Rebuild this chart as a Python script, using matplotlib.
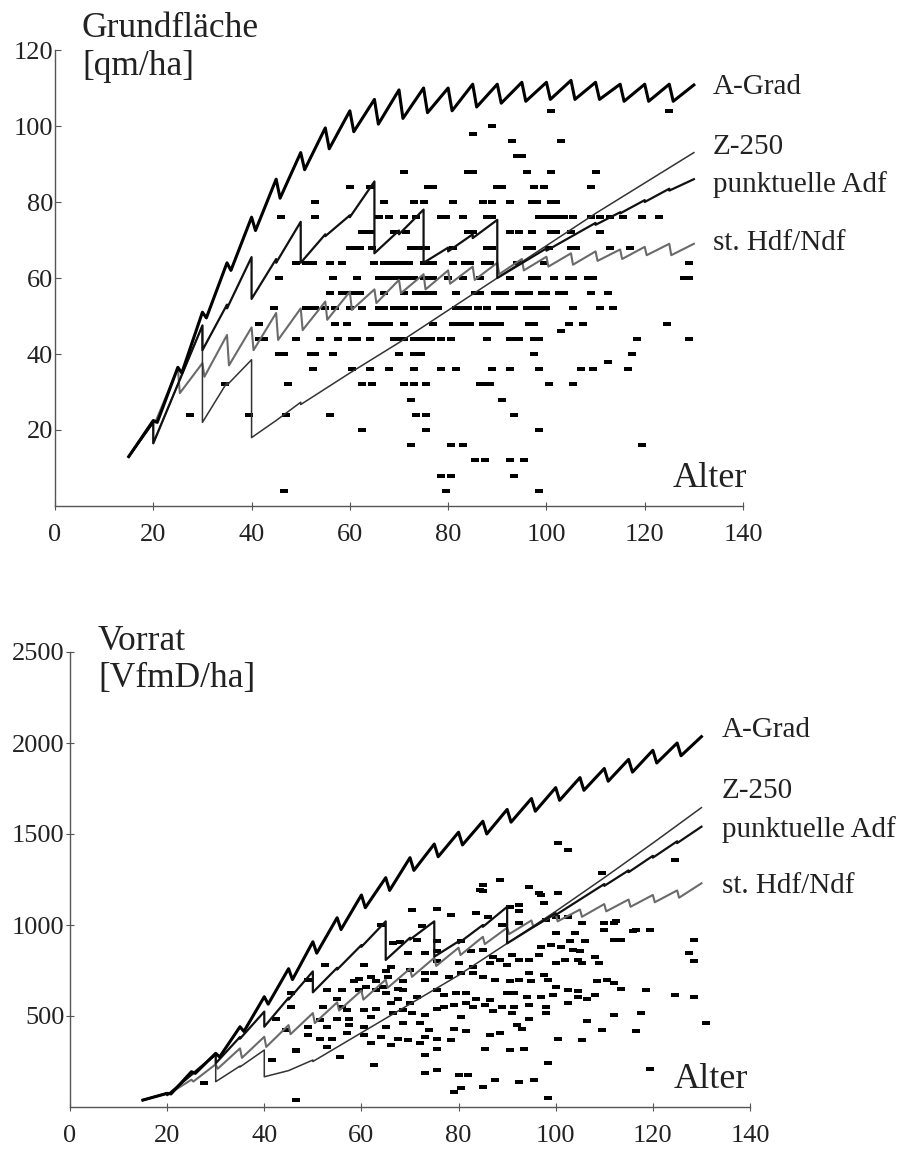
import matplotlib
matplotlib.use("Agg")
import matplotlib.pyplot as plt
from matplotlib.path import Path

plt.rcParams["font.family"] = ["Liberation Serif", "DejaVu Serif"]

# ---------------- Grundflaeche [qm/ha] ----------------
# Kurven: Durchforstungsalter, Wert vor und nach dem Eingriff
gf_agrad_t = [20, 25, 30, 35, 40, 45, 50, 55, 60, 65, 70, 75, 80, 85, 90, 95, 100, 105, 110, 115, 120, 125]
gf_agrad_vor = [22.5, 36.5, 51, 64, 76, 86, 93, 99.5, 104, 107, 109.5, 110, 110, 111, 111, 111.5, 111.5, 112, 111.5, 111, 111, 111]
gf_agrad_nach = [22, 35, 49.5, 62, 72.5, 81, 88.5, 94, 98.5, 100.5, 102, 103.5, 104, 105, 106, 106.5, 107, 107, 107, 106.5, 106.5, 106.5]
gf_agrad_ende = 110.8

gf_z250_t = [20, 30, 35, 40, 45, 50, 60, 70, 80, 90, 100, 110, 120]
gf_z250_vor = [22, 47.5, 32.5, 38.5, 22.5, 27.3, 35, 43, 51.5, 60, 68.5, 77, 85]
gf_z250_nach = [16.5, 22, 31.8, 18, 22.5, 26.7, 35, 43, 51.5, 60, 68.5, 77, 85]
gf_z250_ende = 93

gf_padf_t = [20, 30, 35, 40, 45, 50, 55, 60, 65, 70, 75, 80, 85, 90, 100, 110, 115, 120, 125]
gf_padf_vor = [22, 47.5, 53, 65.5, 65, 74.8, 71.5, 76.5, 85.4, 72.5, 78, 68, 71.5, 75.3, 67.8, 74.5, 77.3, 80.5, 83.5]
gf_padf_nach = [16.5, 41, 52, 54.5, 64, 64, 71, 76, 66.5, 71.5, 64, 67, 70.5, 60, 67.2, 74, 77, 80, 83]
gf_padf_ende = 86

gf_hdf_t = [20, 25, 30, 35, 40, 45, 50, 55, 60, 65, 70, 75, 80, 85, 90, 95, 100, 105, 110, 115, 120, 125]
gf_hdf_vor = [22.5, 36.3, 37.6, 45, 47, 50.8, 52, 53.8, 56.4, 57, 59.5, 61, 62, 63, 64, 65, 65.6, 66.5, 67, 67.5, 68.2, 69]
gf_hdf_nach = [22, 29.7, 34, 37, 41, 43.7, 46.3, 49, 51.6, 53.4, 56, 57, 58.5, 59.5, 61, 62, 63, 63.5, 64.5, 65, 66, 66]
gf_hdf_ende = 69

# Bestandesaufnahmen: Grundflaechenstufe und zugehoerige Alter
gf_stufen = [104, 100, 98, 96, 92, 88, 84, 80, 76, 72, 68, 64, 60, 56, 52, 48, 46, 44, 40, 38, 36, 32, 28, 24, 20, 16, 12, 8, 4]
gf_alter = [
    [101, 125],
    [89],
    [85],
    [93, 103],
    [94, 95],
    [71, 84, 85, 96, 101, 110],
    [60, 64, 76, 77, 90, 91, 97.5, 99.5, 109],
    [53, 67, 73, 75, 81, 87, 89, 92.5, 97, 98, 101, 102],
    [46, 53, 66, 68, 71, 73.5, 78.5, 79.5, 83, 88, 89, 98.5, 99.5, 100.5, 101.5, 102.5, 103.5,
     105.5, 109, 111, 113, 115.5, 119.5, 123],
    [62.5, 64, 69, 71.5, 84, 85, 92.5, 94.5, 97, 101, 102, 105, 111],
    [60, 61, 62, 64.5, 72.5, 73.5, 74.5, 75.5, 81, 88, 89, 96, 97, 100.5, 105, 106, 113, 117],
    [49, 51, 52.5, 56, 58.5, 65, 67, 68, 69.5, 71, 72, 75, 76, 77, 81, 83.5, 84.5, 87.5, 88.5,
     94, 99.5, 129],
    [45.5, 56.5, 61.5, 66, 67, 68, 69.5, 70.5, 71.5, 73, 75, 76, 77, 80, 83, 86.5, 92.5, 97, 98,
     101.5, 104.5, 105.5, 108.5, 109.5, 128, 129],
    [56, 58.5, 59.5, 60.5, 62, 67, 71, 73.5, 75, 76, 77, 81.5, 85.5, 86.5, 89.5, 90.5, 91.5, 94.5,
     95.5, 96.5, 99, 100, 102.5, 103.5, 109, 112.5],
    [44.5, 51, 52, 53, 55, 57, 60, 62.5, 66, 67, 69, 70, 71, 73, 75, 76, 77, 78, 81.5, 82.5, 84,
     86, 88, 90.5, 91.5, 92.5, 93.5, 96, 97, 98, 99, 100, 105.5, 111, 113.5],
    [41.5, 57, 59.5, 64.5, 65.5, 67, 68, 71, 77, 81, 82, 83, 84.5, 87, 88, 89.5, 90.5, 96.5, 97.5,
     104.5, 107.5, 124.5],
    [103],
    [41.5, 42.5, 49, 54, 57.5, 60.5, 61.5, 64, 69, 70, 71, 73, 74.5, 75.5, 76.5, 78.5, 80.5, 88,
     92.5, 93.5, 94.5, 97.5, 98.5, 118.5, 129],
    [45.5, 46.5, 52, 53, 56.5, 70, 73, 74.5, 97.5, 117.5],
    [112.5],
    [52.5, 60.5, 64, 68, 73, 78.5, 81.5, 89, 92.5, 98.5, 107, 109.5, 116.5],
    [34.5, 47.5, 62.5, 64.5, 71, 73, 75.5, 86.5, 87.5, 88.5, 100.5, 105.5],
    [72.5, 91],
    [27.5, 39.5, 47, 56, 73.5, 75.5, 93.5],
    [62.5, 75.5, 98.5],
    [72.5, 80.5, 83, 119.5],
    [85.5, 87.5, 92.5, 95.5],
    [78.5, 80.5, 93.5],
    [46.5, 79.5, 98.5],
]

# ---------------- Vorrat [VfmD/ha] ----------------
vr_agrad_t = [20, 25, 30, 35, 40, 45, 50, 55, 60, 65, 70, 75, 80, 85, 90, 95, 100, 105, 110, 115, 120, 125]
vr_agrad_vor = [75, 194, 295, 441, 606, 760, 908, 1040, 1165, 1260, 1370, 1445, 1510, 1570, 1635, 1695, 1755, 1810, 1860, 1910, 1960, 2000]
vr_agrad_nach = [72, 185, 275, 415, 565, 700, 845, 975, 1095, 1190, 1300, 1375, 1440, 1500, 1565, 1625, 1685, 1740, 1790, 1840, 1890, 1930]
vr_agrad_ende = 2035

vr_z250_t = [20, 30, 35, 40, 45, 50, 60, 70, 80, 90, 100, 110, 120]
vr_z250_vor = [75, 285, 225, 313, 200, 258, 408, 566, 724, 899, 1075, 1260, 1450]
vr_z250_nach = [65, 139, 220, 166, 200, 250, 408, 566, 724, 899, 1075, 1260, 1450]
vr_z250_ende = 1645

vr_padf_t = [20, 30, 35, 40, 45, 50, 55, 60, 65, 70, 75, 80, 85, 90, 100, 110, 115, 120, 125]
vr_padf_vor = [75, 290, 385, 524, 600, 745, 765, 890, 1020, 930, 1020, 910, 1000, 1100, 1065, 1225, 1300, 1380, 1460]
vr_padf_nach = [65, 240, 375, 441, 590, 630, 755, 880, 808, 920, 826, 900, 990, 899, 1055, 1215, 1290, 1370, 1450]
vr_padf_ende = 1540

vr_hdf_t = [20, 25, 30, 35, 40, 45, 50, 55, 60, 65, 70, 75, 80, 85, 90, 95, 100, 105, 110, 115, 120, 125]
vr_hdf_vor = [75, 150, 235, 322, 386, 450, 516, 575, 640, 700, 760, 820, 875, 935, 985, 1025, 1060, 1085, 1115, 1140, 1165, 1190]
vr_hdf_nach = [73, 140, 210, 270, 330, 400, 461, 530, 590, 655, 715, 775, 835, 895, 950, 990, 1020, 1045, 1075, 1100, 1125, 1150]
vr_hdf_ende = 1229

vr_punkte = [
    (70.5, 1080), (75.5, 1090), (64, 1000), (72.5, 995), (66.5, 900), (68, 905), (71.5, 920),
    (75.5, 910), (69.5, 845), (73, 845), (75.5, 855), (52.5, 780), (60.5, 780), (66, 770),
    (70, 755), (75.5, 800), (65, 745), (62, 715), (65.5, 715), (59.5, 705), (73, 735), (75, 735),
    (49, 700), (58.5, 690), (63, 690), (68.5, 690), (73, 700), (61, 660), (64.5, 660), (67.5, 650),
    (45.5, 625), (53, 645), (56, 645), (59.5, 645), (63, 645), (68.5, 645), (75.5, 645), (65, 625),
    (55, 595), (67.5, 595), (71.5, 605), (77, 615), (52, 550), (56, 550), (66, 570), (70, 570),
    (45.5, 550), (57, 535), (60.5, 535), (63, 540), (68.5, 535), (75.5, 540), (42.5, 485),
    (51.5, 480), (55, 485), (57.5, 485), (62, 495), (66.5, 515), (70.5, 515), (73, 505), (49, 440),
    (53, 440), (57.5, 450), (60.5, 440), (65, 440), (68.5, 460), (72, 460), (74, 425), (44.5, 425),
    (49, 395), (51.5, 375), (54, 375), (57, 405), (60.5, 395), (64, 385), (67.5, 375), (69.5, 370),
    (73, 385), (75.5, 375), (46.5, 315), (53, 330), (55.5, 275), (62, 350), (66, 340), (72, 350),
    (75.5, 320), (41.5, 260), (46.5, 305), (73, 285), (62.5, 230), (73, 185), (75.5, 205),
    (46.5, 40), (27.5, 130),
    (100.5, 1450), (102.5, 1410), (85, 1220), (88.5, 1245), (85, 1185), (94.5, 1210), (97, 1165),
    (100.5, 1175), (109.5, 1285), (124.5, 1355), (78.5, 1055), (83.5, 1065), (86, 1045),
    (90.5, 1100), (92.5, 1110), (92.5, 1075), (97.5, 1120), (92.5, 1010), (89, 1000), (98, 1025),
    (100, 1045), (102.5, 1045), (105.5, 1010), (110, 1010), (112, 1010), (110, 975), (112, 920),
    (113.5, 920), (116, 965), (119.5, 970), (128.5, 920), (100, 955), (104, 955), (106, 910),
    (103, 910), (103.5, 865), (105, 855), (101, 880), (99, 890), (97, 880), (96.5, 835), (94.5, 810),
    (91, 835), (88.5, 810), (87, 825), (85, 865), (82.5, 855), (80.5, 910), (80, 790), (83, 770),
    (86.5, 790), (90, 780), (92.5, 810), (94.5, 735), (97.5, 725), (100, 790), (102, 810),
    (104.5, 810), (105.5, 790), (108, 825), (109, 790), (127.5, 845), (128.5, 800), (78, 715),
    (80.5, 735), (83, 735), (85, 715), (87.5, 700), (90.5, 690), (92.5, 700), (95, 690), (98.5, 700),
    (100, 660), (102.5, 645), (104.5, 635), (108.5, 690), (110.5, 700), (112, 680), (113.5, 650),
    (118.5, 645), (124.5, 615), (128.5, 605), (79.5, 625), (81.5, 625), (83.5, 595), (86.5, 590),
    (90, 625), (91.5, 625), (94, 605), (97, 605), (99.5, 615), (102.5, 570), (104.5, 605),
    (106.5, 595), (108, 615), (77, 550), (79, 560), (81.5, 570), (83, 550), (85.5, 560), (89, 550),
    (91.5, 550), (94.5, 560), (98, 550), (98, 515), (80.5, 495), (87, 525), (91, 515), (94.5, 485),
    (106.5, 470), (109.5, 425), (112, 505), (117.5, 515), (116.5, 415), (131, 460), (79, 430),
    (81.5, 415), (86.5, 395), (88.5, 405), (92, 450), (93, 430), (100.5, 375), (105.5, 370),
    (78.5, 370), (85.5, 320), (90.5, 315), (93.5, 320), (98.5, 240), (80, 175), (82, 175),
    (87.5, 150), (92.5, 140), (95.5, 150), (85, 110), (80.5, 105), (79, 85), (98.5, 50),
    (119.5, 210), (116.5, 970), (112.5, 1020), (84.5, 1190), (96.5, 1175),
]

verfahren = ["A-Grad", "Z-250", "punktuelle Adf", "st. Hdf/Ndf"]


def saegezahn(t, vor, nach, ende, start, versatz):
    xs, ys = [15], [start]
    for a, v, n in zip(t, vor, nach):
        xs += [a, a + versatz]
        ys += [v, n]
    xs.append(130)
    ys.append(ende)
    return xs, ys


strich = Path([(-1, -0.42), (1, -0.42), (1, 0.42), (-1, 0.42), (-1, -0.42)],
              [Path.MOVETO, Path.LINETO, Path.LINETO, Path.LINETO, Path.CLOSEPOLY])


def achse(ax, yticks):
    ax.set_xlim(0, 140)
    ax.set_xticks(range(0, 141, 20))
    ax.set_yticks(yticks)
    for s in ["top", "right"]:
        ax.spines[s].set_visible(False)
    for s in ["left", "bottom"]:
        ax.spines[s].set_color("#555555")
        ax.spines[s].set_linewidth(1.0)
    ax.tick_params(length=6, width=0.8, colors="#555555", labelcolor="#222222", labelsize=19)
    ax.tick_params(axis="x", direction="inout", pad=10)
    ax.patch.set_alpha(0)


fig = plt.figure(figsize=(9.04, 11.52), dpi=100)

# oberes Diagramm
ax1 = fig.add_axes([55 / 904, 1 - 506 / 1152, 688 / 904, 456 / 1152])
ax1.set_ylim(0, 120)
achse(ax1, range(20, 121, 20))
ax1.tick_params(axis="y", direction="in", length=4, pad=1.5)

gx, gy = [], []
for w, alter in zip(gf_stufen, gf_alter):
    gx += alter
    gy += [w] * len(alter)
ax1.plot(gx, gy, ls="none", marker=strich, ms=5.2, color="black", mew=0)

ax1.plot(*saegezahn(gf_hdf_t, gf_hdf_vor, gf_hdf_nach, gf_hdf_ende, 13, 0.4), color="#6a6a6a", lw=1.5)
ax1.plot(*saegezahn(gf_z250_t, gf_z250_vor, gf_z250_nach, gf_z250_ende, 13, 0), color="#333333", lw=1.1)
ax1.plot(*saegezahn(gf_padf_t, gf_padf_vor, gf_padf_nach, gf_padf_ende, 13, 0), color="#111111", lw=1.6)
ax1.plot(*saegezahn(gf_agrad_t, gf_agrad_vor, gf_agrad_nach, gf_agrad_ende, 13, 0.8), color="black", lw=2.2)

for name, y in zip(verfahren, [108.4, 92.6, 82.7, 67.5]):
    ax1.text(133.9, y, name, fontsize=21, va="baseline", ha="left", clip_on=False, color="#222222")
ax1.text(125.6, 5, "Alter", fontsize=26, va="baseline", ha="left", color="#222222")
fig.text(82 / 904, 1 - 37 / 1152, "Grundfläche", fontsize=25.5, va="baseline", color="#222222")
fig.text(82 / 904, 1 - 75 / 1152, "[qm/ha]", fontsize=25.5, va="baseline", color="#222222")

# unteres Diagramm
ax2 = fig.add_axes([70 / 904, 1 - 1107 / 1152, 680 / 904, 455 / 1152])
ax2.set_ylim(0, 2500)
achse(ax2, range(500, 2501, 500))
ax2.tick_params(axis="y", direction="inout", pad=1)

vx = [p[0] for p in vr_punkte]
vy = [p[1] for p in vr_punkte]
ax2.plot(vx, vy, ls="none", marker=strich, ms=5.2, color="black", mew=0)

ax2.plot(*saegezahn(vr_hdf_t, vr_hdf_vor, vr_hdf_nach, vr_hdf_ende, 38, 0.4), color="#6a6a6a", lw=1.5)
ax2.plot(*saegezahn(vr_z250_t, vr_z250_vor, vr_z250_nach, vr_z250_ende, 38, 0), color="#333333", lw=1.1)
ax2.plot(*saegezahn(vr_padf_t, vr_padf_vor, vr_padf_nach, vr_padf_ende, 38, 0), color="#111111", lw=1.6)
ax2.plot(*saegezahn(vr_agrad_t, vr_agrad_vor, vr_agrad_nach, vr_agrad_ende, 38, 0.8), color="black", lw=2.2)

for name, y in zip(verfahren, [2035, 1696, 1482, 1174]):
    ax2.text(134.2, y, name, fontsize=21, va="baseline", ha="left", clip_on=False, color="#222222")
ax2.text(124.2, 104, "Alter", fontsize=26, va="baseline", ha="left", color="#222222")
fig.text(98 / 904, 1 - 650 / 1152, "Vorrat", fontsize=25.5, va="baseline", color="#222222")
fig.text(98 / 904, 1 - 687 / 1152, "[VfmD/ha]", fontsize=25.5, va="baseline", color="#222222")

fig.savefig("out.png", dpi=100)
